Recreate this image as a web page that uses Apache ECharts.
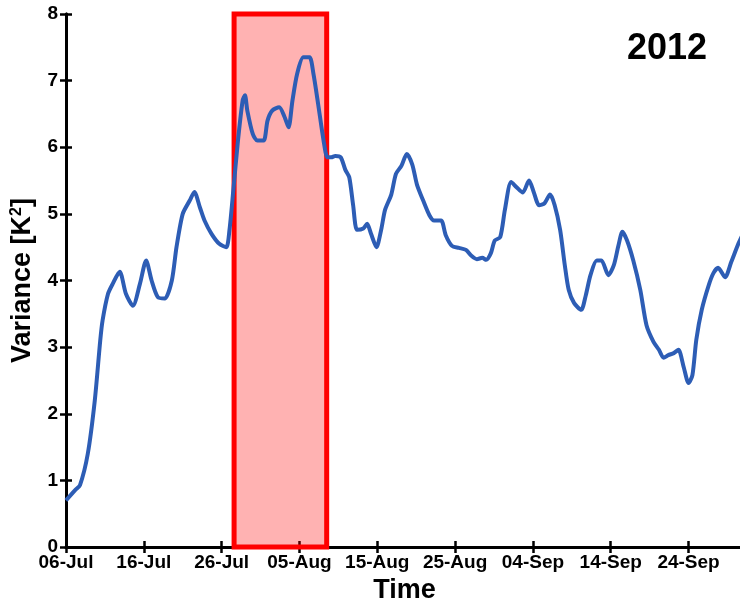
<!DOCTYPE html>
<html>
<head>
<meta charset="utf-8">
<script src="https://cdn.jsdelivr.net/npm/echarts@6/dist/echarts.min.js"></script>
<style>html,body{margin:0;padding:0;background:#fff}#c{width:740px;height:600px}</style>
</head>
<body>
<div id="c"></div>
<script>
// Days since 06-Jul-2012
const dayOffsets = [0.0,1.15,1.8,2.8,3.7,4.4,4.7,5.4,6.0,6.9,7.7,8.6,9.5,10.3,11.0,11.8,12.7,13.6,14.2,15.0,15.9,16.5,17.2,17.8,18.7,19.7,20.6,21.0,21.5,22.1,22.7,23.0,23.3,24.0,24.6,25.4,25.9,26.5,27.4,28.1,28.6,29.1,29.7,30.5,31.3,31.8,32.4,33.1,33.6,34.1,34.6,35.3,35.9,36.4,36.9,37.4,38.2,38.7,39.2,39.9,40.5,41.0,41.8,42.4,43.1,43.8,44.5,45.1,45.9,46.7,47.3,48.2,48.8,49.6,50.5,51.4,52.1,52.8,53.5,54.0,54.6,55.1,55.8,56.4,57.2,57.9,58.7,59.5,60.1,60.8,61.5,62.2,62.8,63.5,64.1,64.6,65.3,66.2,66.8,67.4,68.2,68.8,69.7,70.4,71.0,71.5,72.1,72.9,73.8,74.6,75.5,76.2,76.8,77.4,78.1,78.7,79.4,80.0,80.5,81.0,81.7,82.6,83.2,83.8,84.7,85.5,86.4,87.0];
const variance = [0.70,0.85,0.93,1.4,2.2,3.1,3.4,3.8,3.95,4.13,3.8,3.62,3.95,4.3,4.0,3.75,3.73,4.0,4.5,5.0,5.2,5.33,5.1,4.9,4.7,4.55,4.5,4.75,5.35,6.1,6.7,6.78,6.55,6.2,6.1,6.1,6.4,6.55,6.6,6.45,6.3,6.7,7.1,7.35,7.35,7.1,6.65,6.1,5.85,5.85,5.87,5.85,5.66,5.55,5.13,4.76,4.78,4.85,4.7,4.5,4.76,5.06,5.29,5.6,5.72,5.9,5.74,5.44,5.2,4.98,4.9,4.9,4.68,4.52,4.49,4.46,4.37,4.32,4.34,4.31,4.41,4.6,4.65,5.06,5.48,5.4,5.32,5.5,5.33,5.13,5.16,5.29,5.13,4.76,4.23,3.86,3.66,3.56,3.78,4.08,4.3,4.3,4.08,4.23,4.53,4.73,4.6,4.3,3.86,3.33,3.08,2.96,2.84,2.88,2.91,2.96,2.69,2.46,2.58,3.11,3.56,3.93,4.11,4.19,4.05,4.28,4.55,4.7];
const xTickLabels = ['06-Jul','16-Jul','26-Jul','05-Aug','15-Aug','25-Aug','04-Sep','14-Sep','24-Sep'];
const highlightStart = 21.6, highlightEnd = 33.5; // days since 06-Jul
const yearLabel = '2012';

const FONT = '"Liberation Sans", Arial, sans-serif';
const chart = echarts.init(document.getElementById('c'), null, {renderer: 'canvas'});
const axisLine = {show: true, lineStyle: {color: '#000', width: 3}};
const axisTick = {show: true, inside: true, length: 6, lineStyle: {color: '#000', width: 2.5}};

chart.setOption({
  animation: false,
  backgroundColor: '#fff',
  grid: {left: 66, right: -3, top: 14, bottom: 53, containLabel: false, outerBoundsMode: 'none'},
  title: {text: yearLabel, right: 28, top: 26, textStyle: {fontFamily: FONT, fontWeight: 'bold', fontSize: 36, color: '#000'}},
  xAxis: [{
    type: 'value', min: 0, max: 87, interval: 10, position: 'bottom',
    axisLine, axisTick, splitLine: {show: false},
    axisLabel: {
      showMaxLabel: false, margin: 6, color: '#000', fontFamily: FONT, fontWeight: 'bold', fontSize: 19,
      formatter: v => (v % 10 === 0 && xTickLabels[v / 10]) ? xTickLabels[v / 10] : ''
    },
    name: 'Time', nameLocation: 'middle', nameGap: 29,
    nameTextStyle: {fontFamily: FONT, fontWeight: 'bold', fontSize: 27, color: '#000'}
  }, {
    type: 'value', min: 0, max: 87, interval: 10, position: 'top',
    axisLine, axisTick, axisLabel: {show: false}, splitLine: {show: false}
  }],
  yAxis: [{
    type: 'value', min: 0, max: 8, interval: 1, position: 'left',
    axisLine, axisTick, splitLine: {show: false},
    axisLabel: {margin: 8, color: '#000', fontFamily: FONT, fontWeight: 'bold', fontSize: 19},
    name: 'Variance [K{sup|2}]', nameLocation: 'middle', nameGap: 24, nameRotate: 90,
    nameTextStyle: {
      fontFamily: FONT, fontWeight: 'bold', fontSize: 27, color: '#000',
      rich: {sup: {fontFamily: FONT, fontWeight: 'bold', fontSize: 16, color: '#000', verticalAlign: 'top', padding: [0, 0, 12, 0]}}
    }
  }, {
    type: 'value', min: 0, max: 8, interval: 1, position: 'right',
    axisLine, axisTick, axisLabel: {show: false}, splitLine: {show: false}
  }],
  series: [{
    type: 'line', z: 2,
    data: dayOffsets.map((d, i) => [d, variance[i]]),
    showSymbol: false, smooth: 0.25,
    lineStyle: {color: '#2D5DB5', width: 4},
    clip: true
  }, {
    type: 'line', z: 5, data: [],
    markArea: {
      silent: true,
      itemStyle: {color: 'rgba(255,0,0,0.3)', borderColor: '#ff0000', borderWidth: 5},
      data: [[{coord: [highlightStart, 0]}, {coord: [highlightEnd, 8]}]]
    }
  }]
});
</script>
</body>
</html>
